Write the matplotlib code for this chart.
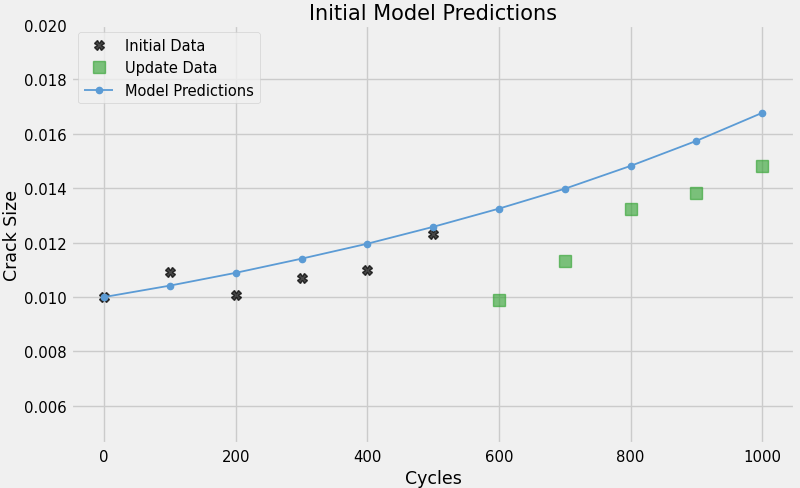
import matplotlib
matplotlib.use("Agg")
import matplotlib.pyplot as plt

plt.style.use("fivethirtyeight")

init_x = [0, 100, 200, 300, 400, 500]
init_y = [0.0100, 0.01093, 0.01008, 0.0107, 0.0110, 0.01232]
upd_x = [600, 700, 800, 900, 1000]
upd_y = [0.0099, 0.01133, 0.01322, 0.01384, 0.01482]
model_x = [0, 100, 200, 300, 400, 500, 600, 700, 800, 900, 1000]
model_y = [0.0100, 0.01042, 0.01089, 0.01141, 0.01196, 0.01258, 0.01325, 0.01398, 0.01482, 0.01574, 0.01677]

fig, ax = plt.subplots(figsize=(8, 4.89), dpi=100)
ax.plot(init_x, init_y, 'X', color='black', alpha=0.7, markersize=6.5, label='Initial Data')
ax.plot(upd_x, upd_y, 's', color='#2ca02c', alpha=0.6, markersize=8, label='Update Data')
ax.plot(model_x, model_y, '-o', color='#5b9bd5', linewidth=1.3, markersize=4.5, label='Model Predictions')
ax.set_ylim(0.0046, 0.020)
ax.set_title('Initial Model Predictions', fontsize=15, pad=4)
ax.set_xlabel('Cycles', fontsize=12.5)
ax.set_ylabel('Crack Size', fontsize=12.5, labelpad=2)
ax.tick_params(labelsize=10.7)
ax.legend(loc='upper left', fontsize=10.5)
fig.subplots_adjust(left=0.089, right=0.994, top=0.947, bottom=0.090)
fig.savefig('out.png', dpi=100)
